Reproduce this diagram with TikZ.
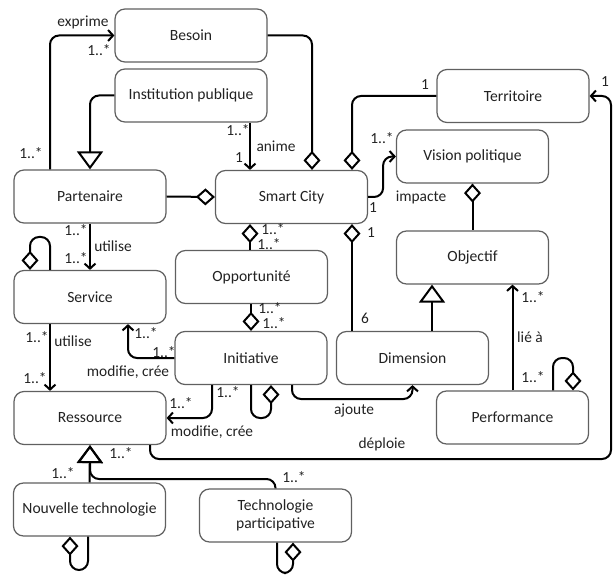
\documentclass[tikz,border=0pt]{standalone}
\usepackage{fontspec}
\setmainfont{Carlito}
\usetikzlibrary{arrows.meta,calc}
\definecolor{boxgray}{HTML}{606060}
\definecolor{txt}{HTML}{222222}
\tikzset{
  box/.style={draw=boxgray, line width=1.2pt, rounded corners=10pt, fill=white,
    minimum width=152pt, minimum height=53pt, inner sep=2pt,
    font=\fontsize{15.6}{18}\selectfont, text=txt, align=center},
  conn/.style={line width=2pt, rounded corners=9pt},
  assoc/.style={conn, -{Straight Barb[length=5pt,width=11pt]}},
  aggr/.style={conn, {Diamond[open,length=19pt,width=17pt]}-},
  gen/.style={conn, -{Triangle[open,length=18pt,width=26pt]}},
  lbl/.style={inner sep=0pt, font=\fontsize{15.4}{18}\selectfont, text=txt},
}
\begin{document}
\begin{tikzpicture}[x=1pt,y=-1pt]
\useasboundingbox (0,0) rectangle (614,575);
% nodes
\node[box] (besoin) at (191,35.5) {Besoin};
\node[box] (inst) at (191,95.5) {Institution publique};
\node[box] (part) at (90,196.5) {Partenaire};
\node[box] (sc) at (291.5,197) {Smart City};
\node[box] (terr) at (513,96) {Territoire};
\node[box] (vision) at (472.5,156.5) {Vision politique};
\node[box] (service) at (90,297) {Service};
\node[box] (opp) at (251.5,277) {Opportunité};
\node[box] (obj) at (472.5,257.5) {Objectif};
\node[box] (init) at (251,358) {Initiative};
\node[box] (dim) at (412.5,358) {Dimension};
\node[box] (perf) at (512.5,417.5) {Performance};
\node[box] (ress) at (90,418) {Ressource};
\node[box] (nt) at (89.5,509.5) {Nouvelle technologie};
\node[box] (tp) at (275.5,515.5) {Technologie\\participative};
% connectors
\draw[assoc] (part.north -| 50,0) |- (besoin.west);
\draw[gen] (inst.west) -| (part.north);
\draw[assoc] (inst.south -| 250,0) -- (sc.north -| 250,0);
\draw[aggr] (sc.north -| 312,0) |- (besoin.east);
\draw[aggr] (sc.north -| 352,0) |- (terr.west);
\draw[assoc] (sc.east) -- ++(15,0) |- (vision.west);
\draw[aggr] (sc.west) -- (part.east);
\draw[assoc] (part.south) -- (service.north);
\draw[aggr] (service.north -| 30,0) |- (50,237) -- (service.north -| 50,0);
\draw[assoc] (service.south -| 50,0) -- (ress.north -| 50,0);
\draw[aggr] (sc.south -| 250,0) -- (opp.north -| 250,0);
\draw[aggr] (init.north) -- (opp.south -| init.north);
\draw[assoc] (init.west) -| (service.south -| 128,0);
\draw[assoc] (init.south -| 212,0) |- (ress.east);
\draw[aggr] (init.south -| 271,0) |- (251,418) -- (init.south -| 251,0);
\draw[assoc] (init.south -| 292,0) |- (dim.south |- 0,399) -- (dim.south);
\draw[aggr] (sc.south -| 352,0) -- (dim.north -| 352,0);
\draw[gen] (dim.north -| 432,0) -- (obj.south -| 432,0);
\draw[aggr] (vision.south) -- (obj.north);
\draw[assoc] (perf.north) -- (obj.south -| perf.north);
\draw[aggr] (perf.north -| 573,0) |- (553,358) -- (perf.north -| 553,0);
\draw[assoc] (ress.south -| 150,0) |- (611,459) |- (terr.east);
\draw[gen] (nt.north) -- (ress.south);
\draw[gen] (tp.north) |- (90,479) -- (ress.south);
\draw[aggr] (nt.south -| 70,0) |- (88,570) -- (nt.south -| 88,0);
\draw[aggr] (tp.south -| 293,0) |- (277,573) -- (tp.south -| 277,0);
% labels
\node[lbl] (l1) at (83,22) {exprime};
\node[lbl] (l2) at (99,50) {1..*};
\node[lbl] (l3) at (31,153) {1..*};
\node[lbl] (l4) at (238,130) {1..*};
\node[lbl] (l5) at (276,146) {anime};
\node[lbl] (l6) at (239,158) {1};
\node[lbl] (l7) at (425,85) {1};
\node[lbl] (l8) at (382,138) {1..*};
\node[lbl] (l9) at (605,82) {1};
\node[lbl] (l10) at (421,197) {impacte};
\node[lbl] (l11) at (373,208) {1};
\node[lbl] (l12) at (371,233) {1};
\node[lbl] (l13) at (365,318) {6};
\node[lbl] (l14) at (533,297) {1..*};
\node[lbl] (l15) at (530,337) {lié à};
\node[lbl] (l16) at (533,377) {1..*};
\node[lbl] (l17) at (76,230) {1..*};
\node[lbl] (l18) at (113,246) {utilise};
\node[lbl] (l19) at (76,258) {1..*};
\node[lbl] (l20) at (37,337) {1..*};
\node[lbl] (l21) at (73,341) {utilise};
\node[lbl] (l22) at (35,378) {1..*};
\node[lbl] (l23) at (146,333) {1..*};
\node[lbl] (l24) at (164,352) {1..*};
\node[lbl] (l25) at (128,372) {modifie, crée};
\node[lbl] (l26) at (273,229) {1..*};
\node[lbl] (l27) at (269,244) {1..*};
\node[lbl] (l28) at (270,308) {1..*};
\node[lbl] (l29) at (274,323) {1..*};
\node[lbl] (l30) at (228,392) {1..*};
\node[lbl] (l31) at (181,403) {1..*};
\node[lbl] (l32) at (212,432) {modifie, crée};
\node[lbl] (l33) at (354,411) {ajoute};
\node[lbl] (l34) at (382,444) {déploie};
\node[lbl] (l35) at (121,453) {1..*};
\node[lbl] (l36) at (63,473) {1..*};
\node[lbl] (l37) at (294,477) {1..*};
\end{tikzpicture}
\end{document}
